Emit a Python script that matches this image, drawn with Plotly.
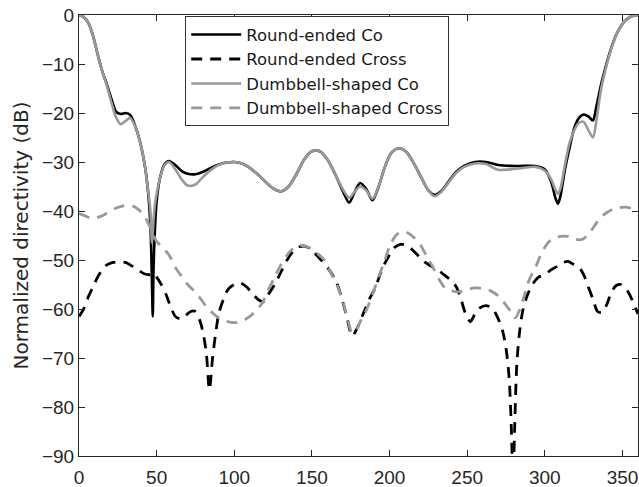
import plotly.graph_objects as go

# ---------------- data (angle in degrees, normalized directivity in dB) ----------------
round_co_theta = [0, 3, 6, 9, 12, 15, 18, 21, 24, 27, 30, 33, 36, 39, 42, 44, 46, 47, 47.5, 48, 49, 50, 52, 55, 58,
                  62, 66, 70, 75, 80, 85, 90, 95, 100, 105, 110, 115, 120, 125, 130, 135, 140, 145, 150, 155, 160,
                  165, 170, 174, 177, 181, 185, 189, 193, 197, 201, 206, 211, 216, 221, 225, 229, 233, 238, 243, 248,
                  255, 262, 270, 278, 286, 294, 300, 304, 307, 308.5, 310, 313, 316, 319, 322, 325, 328, 331, 333,
                  336, 339, 342, 345, 348, 351, 354, 357, 360]
round_co_db = [0, -0.4, -1.6, -4.2, -8.0, -11.5, -14.2, -17.2, -19.8, -20.2, -20.0, -20.4, -22.5, -25.5, -30, -34.5,
               -43, -55, -61.5, -52, -43, -38, -33.5, -30.5, -29.8,
               -30.6, -31.8, -32.4, -32.5, -32, -31.2, -30.5, -30.1, -30, -30.3, -31.2, -32.5, -34, -35.4, -36, -35,
               -32.5, -29.5, -27.8, -27.8, -29.5,
               -32.5, -36, -38.3, -36.5, -34.3, -35.5, -37.8, -35, -31, -28.2, -27.2, -28, -30.5, -33.5, -35.8, -36.7,
               -36, -34, -32, -30.8,
               -30.0, -30.0, -30.6, -30.8, -30.8, -30.8, -31.5, -34, -37.5, -38.5, -37, -31.5, -27, -23, -21, -20.3,
               -20.7, -21.5, -19,
               -14.5, -10.8, -7.5, -4.8, -2.8, -1.4, -0.6, -0.15, 0]

dumbbell_co_theta = [0, 3, 6, 9, 12, 15, 18, 21, 24, 27, 30, 33, 36, 39, 42, 44, 46, 47, 48, 49, 50, 52, 55, 58,
                     62, 66, 70, 75, 80, 85, 90, 95, 100, 105, 110, 115, 120, 125, 130, 135, 140, 145, 150, 155, 160,
                     165, 170, 174, 177, 181, 185, 189, 193, 197, 201, 206, 211, 216, 221, 225, 229, 233, 238, 243, 248,
                     255, 262, 270, 278, 286, 294, 300, 304, 307, 308.5, 310, 313, 316, 319, 322, 325, 328, 331, 333,
                     336, 339, 342, 345, 348, 351, 354, 357, 360]
dumbbell_co_db = [0, -0.4, -1.6, -4.2, -8.0, -11.5, -14.5, -18.0, -21.0, -22.3, -21.6, -21.0, -22.6, -25.5, -30,
                  -34.5, -40, -46.5, -42, -38.5, -36.5, -33.5, -30.7, -30.0,
                  -31.5, -33.5, -34.8, -34.6, -33, -31.6, -30.6, -30.1, -30, -30.3, -31.2, -32.5, -34, -35.4, -36,
                  -35, -32.5, -29.5, -27.8, -27.8, -29.5,
                  -32.5, -35.6, -37.3, -36.3, -35.0, -35.8, -37.5, -35, -31, -28.2, -27.2, -28, -30.5, -33.5, -35.8,
                  -37.0, -36.2, -34.2, -32.2, -31.0,
                  -30.3, -30.4, -31.6, -31.5, -31.2, -31.0, -31.8, -33.5, -35.8, -36.5, -35.5, -30.5, -26, -23.5,
                  -22, -21.8, -23.5, -25.0, -22,
                  -15.5, -11.2, -7.7, -4.9, -2.8, -1.4, -0.6, -0.15, 0]

round_cross_theta = [0, 3, 6, 9, 12, 15, 18, 22, 26, 30, 34, 38, 42, 46, 48, 50, 53, 56, 59, 62, 65, 68, 72, 75, 78,
                     80, 82, 84, 86, 88, 90, 93, 96, 100, 104, 108, 112, 116, 119, 122, 126, 130, 134, 138, 142, 146,
                     150, 155, 160, 165, 168, 172, 176, 179, 183, 187, 191, 195, 199, 203, 207, 211, 215, 219, 223,
                     227, 231, 235, 239, 243, 246, 249, 252, 255, 258, 262, 266, 270, 273, 275, 277, 278.5, 279.5,
                     280.5, 282, 284, 286, 289, 292, 296, 300, 304, 308, 312, 315, 318, 322, 325, 328, 331, 334, 337,
                     340, 343, 346, 349, 352, 355, 358, 360]
round_cross_db = [-61.5, -60, -57.5, -55.5, -53.5, -52, -51, -50.5, -50.4, -50.5, -51.2, -52, -52.8, -53, -52.7,
                  -53.5, -55, -57, -59.5, -61.5, -62, -61.5, -60.5, -60.5, -62.5,
                  -65, -69, -76.5, -70, -65, -61, -58, -56, -55, -54.7, -55.5, -57, -58.2, -58.5, -57, -55, -52.5,
                  -50, -48.2, -47.3, -47.2,
                  -48, -49.7, -51.5, -54, -56.5, -61, -65.5, -64, -61, -58, -55.5, -52, -49.5, -47.5, -46.8, -47,
                  -48, -49.3, -50.5,
                  -51.3, -52, -53, -54, -55.5, -58, -61, -62.6, -61, -59.8, -59.3, -59.8, -62, -64.7, -68, -74, -85,
                  -96,
                  -85, -71, -64, -60, -57, -55, -53.5, -53, -52, -51.3, -50.5, -50.3, -50.8, -51.5, -53, -55.5, -58,
                  -60.5, -60.7,
                  -59, -56.5, -55.2, -55, -55.7, -57.3, -59.5, -61]

dumbbell_cross_theta = [0, 4, 8, 12, 16, 20, 24, 28, 32, 36, 40, 43, 46, 48, 50, 54, 58, 62, 66, 70, 74, 78, 82, 86,
                        90, 95, 100, 105, 110, 114, 118, 122, 126, 130, 134, 138, 142, 146, 150, 154, 158, 162, 166,
                        170, 173, 176, 179, 182, 185, 189, 193, 197, 200, 204, 208, 212, 216, 220, 224, 228, 232, 236,
                        240, 245, 250, 255, 260, 265, 270, 274, 278, 281, 284, 287, 290, 294, 298, 302, 306, 310, 315,
                        320, 324, 328, 332, 336, 340, 344, 348, 352, 356, 360]
dumbbell_cross_db = [-40.5, -41, -41.5, -41.3, -40.8, -40, -39.4, -39, -38.8, -39.2, -40.2, -41.5, -43.5, -45, -46.2,
                     -47.5, -49, -51.5, -53.3, -55, -56.3, -57.8, -59.5, -60.8,
                     -61.8, -62.5, -62.8, -62.5, -61.5, -60.3, -58.8, -56, -53.5, -51, -49, -47.6, -47, -47.2, -47.8,
                     -48.8, -50, -52.5, -55,
                     -58.5, -62, -65, -64, -62, -60.3, -57, -53.5, -50, -47.3, -45, -44.2, -44.5, -45.5, -47, -49.3,
                     -51.5, -54, -55.8,
                     -56.3, -56.5, -56, -55.7, -55.8, -56.3, -57.3, -58.8, -60.5, -61.8, -60, -57, -54, -51.5, -48.5,
                     -46.5, -45.5, -45.2, -45.2,
                     -45.8, -45.8, -44.8, -43, -41.3, -40.3, -39.6, -39.3, -39.2, -39.5, -40]

series_names = ["Round-ended Co", "Round-ended Cross", "Dumbbell-shaped Co", "Dumbbell-shaped Cross"]
x_ticks = [0, 50, 100, 150, 200, 250, 300, 350]
y_ticks = [0, -10, -20, -30, -40, -50, -60, -70, -80, -90]

BLACK = "#000000"
GRAY = "#999999"
DASH = "11px,8px"

fig = go.Figure()
fig.add_trace(go.Scatter(x=round_co_theta, y=round_co_db, mode="lines", name=series_names[0],
                         line=dict(color=BLACK, width=2.6, shape="spline", smoothing=0.8)))
fig.add_trace(go.Scatter(x=round_cross_theta, y=round_cross_db, mode="lines", name=series_names[1],
                         line=dict(color=BLACK, width=2.8, dash=DASH, shape="spline", smoothing=0.8)))
fig.add_trace(go.Scatter(x=dumbbell_co_theta, y=dumbbell_co_db, mode="lines", name=series_names[2],
                         line=dict(color=GRAY, width=2.6, shape="spline", smoothing=0.8)))
fig.add_trace(go.Scatter(x=dumbbell_cross_theta, y=dumbbell_cross_db, mode="lines", name=series_names[3],
                         line=dict(color=GRAY, width=2.8, dash=DASH, shape="spline", smoothing=0.8)))

axis_color = "#262626"
fig.update_layout(
    width=639, height=487,
    margin=dict(l=79, r=1, t=15, b=31, autoexpand=False),
    paper_bgcolor="white", plot_bgcolor="white",
    font=dict(family="Liberation Sans, Arial, sans-serif", color="#262626", size=19),
    showlegend=True,
    legend=dict(
        x=0.19, y=0.997, xanchor="left", yanchor="top",
        bgcolor="white", bordercolor="#333333", borderwidth=1,
        font=dict(family="DejaVu Sans", size=16.5, color="#1a1a1a"),
        itemwidth=50, tracegroupgap=0,
    ),
    xaxis=dict(
        range=[0, 360], tickvals=x_ticks, ticks="inside", ticklen=6, tickcolor=axis_color,
        showline=True, linecolor=axis_color, linewidth=1, mirror="ticks",
        showgrid=False, zeroline=False, ticklabelstandoff=4, automargin=False,
        tickfont=dict(family="Liberation Sans, Arial", size=19, color="#262626"),
    ),
    yaxis=dict(
        range=[-90, 0], tickvals=y_ticks, ticks="inside", ticklen=6, tickcolor=axis_color,
        showline=True, linecolor=axis_color, linewidth=1, mirror="ticks",
        showgrid=False, zeroline=False, automargin=False,
        tickfont=dict(family="Liberation Sans, Arial", size=19, color="#262626"),
        title=dict(text="Normalized directivity (dB)", standoff=7,
                   font=dict(family="DejaVu Sans", size=20, color="#262626")),
    ),
)

fig.write_html("out.html")
